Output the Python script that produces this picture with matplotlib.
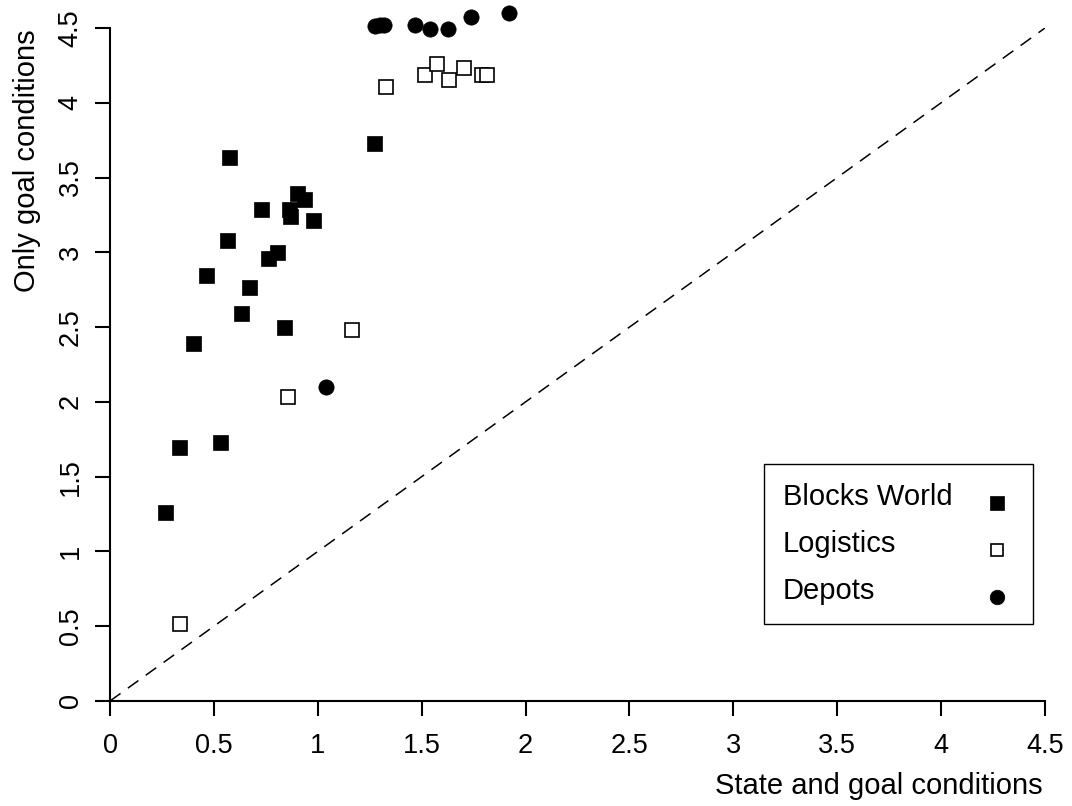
import numpy as np
import matplotlib
matplotlib.use("Agg")
import matplotlib.pyplot as plt
from matplotlib.lines import Line2D
from matplotlib.patches import Rectangle

plt.rcParams['font.family'] = ['Liberation Sans', 'DejaVu Sans']

# Blocks World (filled squares)
bw_x = [0.266, 0.332, 0.398, 0.464, 0.529, 0.561, 0.573, 0.629, 0.670, 0.727,
        0.759, 0.802, 0.836, 0.863, 0.866, 0.901, 0.934, 0.978, 1.269]
bw_y = [1.261, 1.698, 2.395, 2.848, 1.731, 3.082, 3.639, 2.596, 2.769, 3.293,
        2.963, 3.003, 2.498, 3.293, 3.241, 3.394, 3.354, 3.219, 3.732]

# Logistics (open squares)
lg_x = [0.337, 0.858, 1.166, 1.328, 1.516, 1.576, 1.631, 1.705, 1.789, 1.813]
lg_y = [0.513, 2.030, 2.484, 4.106, 4.184, 4.258, 4.155, 4.234, 4.184, 4.184]

# Depots (filled circles)
dp_x = [1.041, 1.277, 1.298, 1.318, 1.468, 1.540, 1.628, 1.737, 1.922]
dp_y = [2.101, 4.514, 4.517, 4.519, 4.519, 4.490, 4.495, 4.574, 4.602]

series = ['Blocks World', 'Logistics', 'Depots']

ticks = np.arange(0, 4.51, 0.5)
tick_labels = ['0', '0.5', '1', '1.5', '2', '2.5', '3', '3.5', '4', '4.5']

W, H = 1072, 806
fig = plt.figure(figsize=(W / 100, H / 100), dpi=100)
ax = fig.add_axes([110 / W, 1 - 701 / H, 935 / W, 673 / H])

fs = 21

# diagonal reference
ax.plot([0, 4.5], [0, 4.5], color='black', lw=1.1, dashes=(8.5, 5.9), zorder=1)

styles = [dict(marker='s', ms=10.8, mfc='black', mec='black', mew=0.5),
          dict(marker='s', ms=10.2, mfc='white', mec='black', mew=1.2),
          dict(marker='o', ms=11, mfc='black', mec='black', mew=0.5)]

for xs, ys, name, st in zip([bw_x, lg_x, dp_x], [bw_y, lg_y, dp_y], series, styles):
    ax.plot(xs, ys, ls='none', clip_on=False, label=name, zorder=3, **st)

ax.set_xlim(0, 4.5)
ax.set_ylim(0, 4.5)
ax.set_xticks(ticks)
ax.set_xticklabels(tick_labels)
ax.set_yticks(ticks)
ax.set_yticklabels(tick_labels, rotation=90, va='center')

for s in ['top', 'right']:
    ax.spines[s].set_visible(False)
for s in ['left', 'bottom']:
    ax.spines[s].set_linewidth(1.5)

ax.tick_params(axis='both', direction='out', length=11, width=1.5,
               labelsize=19.5)
ax.tick_params(axis='x', pad=12)
ax.tick_params(axis='y', pad=8)

fig.text(27 / W, 1 - 161 / H, 'Only goal conditions', rotation=90,
         ha='center', va='center', fontsize=fs)
fig.text(1043 / W, 1 - 786 / H, 'State and goal conditions',
         ha='right', va='center', fontsize=fs)

# legend box: labels on the left, markers in a column on the right
fig.add_artist(Rectangle((764 / W, 1 - 624 / H), 269 / W, 160 / H,
                         transform=fig.transFigure, fill=False,
                         edgecolor='black', lw=1.0))
leg_ms = [10, 8.8, 10.5]
for i, (name, st) in enumerate(zip(series, styles)):
    ybase = 1 - (505 + 47 * i) / H
    ymark = 1 - (503 + 47 * i) / H
    fig.text(783 / W, ybase, name, ha='left', va='baseline', fontsize=fs)
    st = dict(st, ms=leg_ms[i])
    fig.add_artist(Line2D([997 / W], [ymark], transform=fig.transFigure,
                          ls='none', **st))

fig.savefig('out.png', dpi=100)
